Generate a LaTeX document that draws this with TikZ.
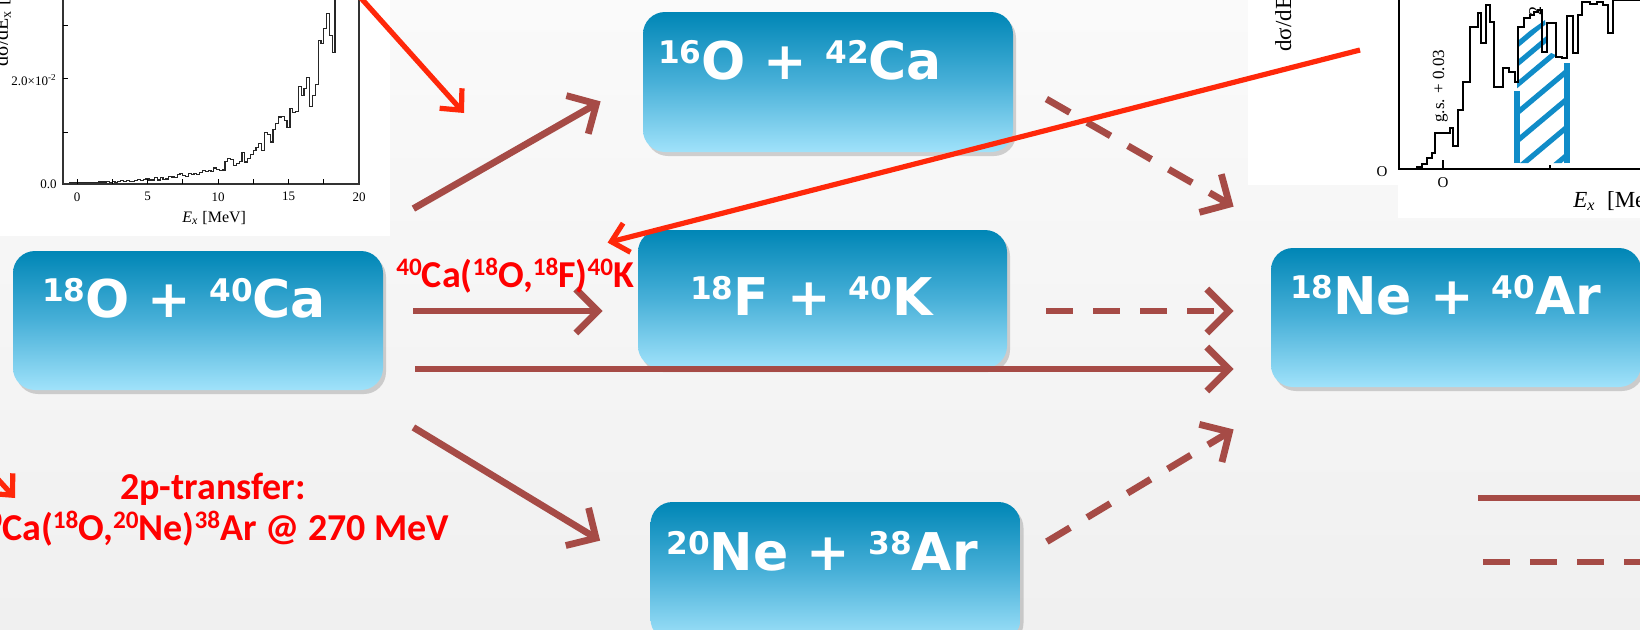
\documentclass[tikz,border=0pt]{standalone}
\usepackage{fontspec}
\setmainfont{Liberation Serif}
\newfontfamily\boxfont{DejaVu Sans}
\newfontfamily\lblfont{Carlito}
\usetikzlibrary{arrows.meta,shadows}
\definecolor{bgtop}{RGB}{250,250,250}
\definecolor{bgbot}{RGB}{240,240,240}
\definecolor{boxtop}{RGB}{0,134,182}
\definecolor{boxmid}{RGB}{72,176,216}
\definecolor{boxbot}{RGB}{160,226,250}
\definecolor{arrbrown}{RGB}{166,75,70}
\definecolor{arrred}{RGB}{255,40,10}
\definecolor{lblred}{RGB}{255,0,0}
\definecolor{hatchblue}{RGB}{16,140,200}
\newcommand\bsup[1]{\raisebox{8pt}{\fontsize{15.6}{16}\selectfont #1}}
\newcommand\rsup[1]{\raisebox{6pt}{\fontsize{12.6}{13}\selectfont #1}}
\begin{document}
\begin{tikzpicture}[x=0.5pt,y=-0.5pt,
  nbox/.style={rounded corners=11pt, top color=boxtop, bottom color=boxbot, middle color=boxmid,
    minimum width=185pt, minimum height=69.5pt, inner sep=0pt,
    drop shadow={shadow xshift=1.5pt, shadow yshift=-2pt, opacity=0.35}},
  boxtxt/.style={text=white, font=\boxfont\bfseries\fontsize{26}{30}\selectfont, inner sep=0pt, anchor=base west},
  redlbl/.style={text=lblred, font=\lblfont\bfseries\fontsize{19}{20.5}\selectfont, inner sep=0pt},
  arr/.style={draw=arrbrown, line width=3.4pt, -{Straight Barb[length=11pt,width=22pt]}},
  darr/.style={arr, dash pattern=on 13.5pt off 10pt},
  rarr/.style={draw=arrred, line width=2.6pt, -{Straight Barb[length=8pt,width=15pt]}},
  plab/.style={font=\fontsize{6.5}{7}\selectfont, inner sep=0pt},
  whitearea/.style={fill=white, draw=none, inner sep=0pt, anchor=north west}
]
\useasboundingbox (0,0) rectangle (1640,629);
\clip (0,0) rectangle (1640,629);
\shade[top color=bgtop, bottom color=bgbot] (0,0) rectangle (1640,629);

% ---------- top-left spectrum ----------
\node[whitearea, minimum width=195pt, minimum height=118pt] (plotL) at (0,0) {};
\begin{scope}
  \clip (63,0) rectangle (359,184);
  \pgfmathsetseed{7}
  \draw[line width=0.6pt, black!85] plot[const plot, domain=-0.9:18.7, samples=99]
    ({77+14.1*\x}, {184-1.1*exp(\x/3.65)*(1+0.25*rand)});
\end{scope}
\draw[line width=0.6pt, black!80] (63,0) -- (63,184) -- (359,184) -- (359,0);
\foreach \e in {0,2.5,...,17.5} \draw[line width=0.5pt] ({77+14.1*\e},184) -- ++(0,-5);
\foreach \yy in {132,78,25} \draw[line width=0.5pt] (63,\yy) -- ++(5,0);
\foreach \v/\n in {0/0,5/1,10/2,15/3,20/4}
  \node[plab, anchor=north, name=xl\n] at ({77+14.1*\v},192) {\v};
\node[plab, anchor=east] (yl0) at (57,184) {0.0};
\node[plab, anchor=east] (yl1) at (57,80) {2.0×10\textsuperscript{-2}};
\node[font=\fontsize{8}{9}\selectfont, inner sep=0pt, anchor=base west] (xlab) at (182,222) {\textit{E}\textsubscript{\textit{x}} [MeV]};
\node[font=\fontsize{10}{11}\selectfont, inner sep=0pt, anchor=base west, rotate=90] (ylab) at (8,67) {dσ/dE\textsubscript{x} [};

% ---------- top-right spectrum ----------
\node[whitearea, minimum width=196pt, minimum height=92.5pt] (plotR) at (1248,0) {};
\node[whitearea, minimum width=121pt, minimum height=17pt] (plotRb) at (1398,184) {};
\begin{scope}
  \clip (1517,163) -- (1517,40) -- (1545,20) -- (1549,52) -- (1567,60) -- (1567,163) -- cycle;
  \foreach \c in {45,64,85,113,141,169,197,225}
    \draw[hatchblue, line width=2.6pt] (1505,{\c+10}) -- (1585,{\c-57});
\end{scope}
\draw[hatchblue, line width=2.6pt] (1517,163) -- (1517,91);
\draw[hatchblue, line width=2.6pt] (1567,163) -- (1567,63);
\draw[line width=0.9pt] (1417,169) |- (1422,167) |- (1427,164) |- (1432,158) |- (1435,153)
  |- (1450,133) |- (1453,128) |- (1458,146) |- (1463,110) |- (1470,82) |- (1478,27)
  |- (1481,13) |- (1486,43) |- (1490,5) |- (1494,22) |- (1503,87) |- (1509,68)
  |- (1515,72) |- (1518,82) |- (1524,27) |- (1530,18) |- (1534,15) |- (1538,12)
  |- (1542,10) |- (1547,52) |- (1556,23) |- (1562,57) |- (1567,58) |- (1573,16)
  |- (1578,53) |- (1582,15) |- (1590,2) |- (1597,4) |- (1603,2) |- (1608,5)
  |- (1613,33) |- (1645,0);
\draw[line width=0.8pt] (1399,0) -- (1399,169) -- (1645,169);
\draw[line width=0.8pt] (1443,169) -- (1443,160);
\draw[line width=0.6pt] (1550,169) -- (1550,165);
\node[font=\fontsize{7.5}{8}\selectfont, inner sep=0pt] (ryl0) at (1382,172) {O};
\node[font=\fontsize{7.5}{8}\selectfont, inner sep=0pt] (rxl0) at (1443,183) {O};
\node[font=\fontsize{11.5}{12}\selectfont, inner sep=0pt, anchor=base west] (rxlab) at (1573,207) {\textit{E}\textsubscript{\textit{x}}\ \ [MeV]};
\node[font=\fontsize{11.5}{12}\selectfont, inner sep=0pt, anchor=base west, rotate=90] (rylab) at (1291,52) {dσ/dE};
\node[font=\fontsize{8.5}{9}\selectfont, inner sep=0pt, anchor=base west, rotate=90] (gs) at (1444,123) {g.s. + 0.03};
\node[font=\fontsize{9}{10}\selectfont, inner sep=0pt, anchor=base west, rotate=90] (two) at (1541,16) {2};

% ---------- boxes ----------
\node[nbox] (o18) at (198,320.5) {};
\node[nbox, minimum height=70pt] (o16) at (828,82) {};
\node[nbox, minimum width=184.5pt, minimum height=69pt] (f18) at (822.5,299) {};
\node[nbox] (ne20) at (835.5,571.5) {};
\node[nbox] (ne18) at (1456,317.5) {};

\node[boxtxt] (o18t) at ([shift={(29,67)}]o18.north west) {\bsup{18}O + \bsup{40}Ca};
\node[boxtxt] (o16t) at ([shift={(15,68)}]o16.north west) {\bsup{16}O + \bsup{42}Ca};
\node[boxtxt] (f18t) at ([shift={(52,86)}]f18.north west) {\bsup{18}F + \bsup{40}K};
\node[boxtxt] (ne20t) at ([shift={(16,69)}]ne20.north west) {\bsup{20}Ne + \bsup{38}Ar};
\node[boxtxt] (ne18t) at ([shift={(19,67)}]ne18.north west) {\bsup{18}Ne + \bsup{40}Ar};

% ---------- brown arrows ----------
\draw[arr] ([shift={(30,-42)}]o18.north east) -- ([shift={(-42,-51)}]o16.south west);
\draw[arr] ([shift={(30,-9.5)}]o18.east) -- ([shift={(-35,12)}]f18.west);
\draw[arr] ([shift={(32,48.5)}]o18.east) -- ([shift={(-37,51.5)}]ne18.west);
\draw[arr] ([shift={(30,37)}]o18.south east) -- ([shift={(-50,39)}]ne20.north west);
\draw[darr] ([shift={(33,17)}]o16.east) -- ([shift={(-37,-41)}]ne18.north west);
\draw[darr] ([shift={(39,12)}]f18.east) -- ([shift={(-37,-6.5)}]ne18.west);
\draw[darr] ([shift={(26,40)}]ne20.north east) -- ([shift={(-37,42)}]ne18.south west);

% legend
\coordinate (legA) at (1478,498);
\coordinate (legB) at (1645,498);
\coordinate (legC) at (1483,562);
\coordinate (legD) at (1645,562);
\draw[draw=arrbrown, line width=3.4pt] (legA) -- (legB);
\draw[draw=arrbrown, line width=3.4pt, dash pattern=on 13.5pt off 10pt] (legC) -- (legD);

% ---------- red labels ----------
\node[redlbl, anchor=base west] (lblF) at (396,287) {\rsup{40}Ca(\rsup{18}O,\rsup{18}F)\rsup{40}K};
\node[redlbl, anchor=base, align=center] (lbl2p) at (213,540) {2p-transfer:\\\rsup{40}Ca(\rsup{18}O,\rsup{20}Ne)\rsup{38}Ar @ 270 MeV};

% ---------- red arrows ----------
\coordinate (r1tip) at (464,113);
\draw[rarr] ([shift={(-46,-20)}]plotL.north east) -- (r1tip);
\draw[rarr] ([shift={(112,50)}]plotR.north west) -- ([shift={(-30,13)}]f18.north west);
\coordinate (r3start) at (-35,443);
\coordinate (r3tip) at (15,498);
\draw[rarr] (r3start) -- (r3tip);
\end{tikzpicture}
\end{document}
